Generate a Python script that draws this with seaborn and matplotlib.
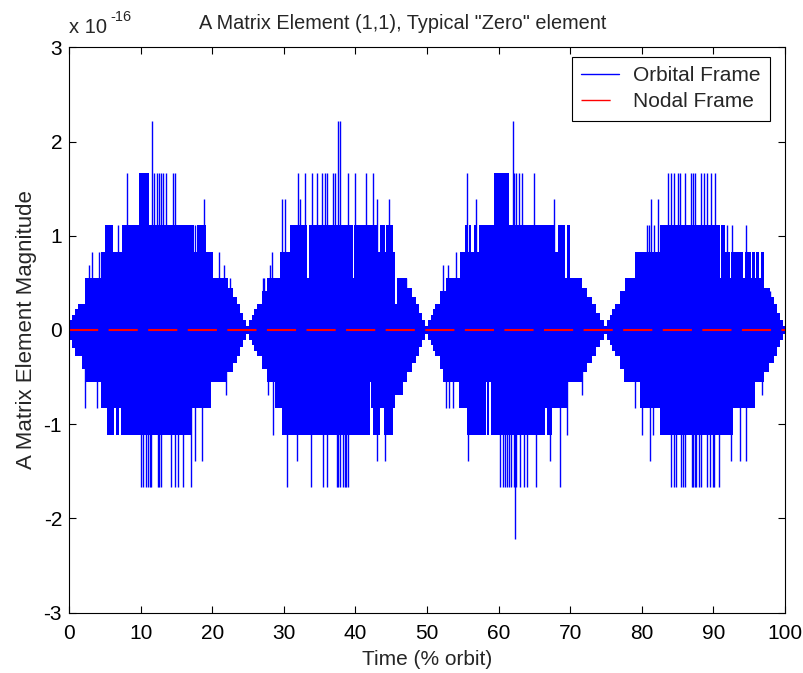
import numpy as np
import matplotlib
matplotlib.use("Agg")
import matplotlib.pyplot as plt
from matplotlib.lines import Line2D
import seaborn as sns

# one round-off step of the element, in units of 1e-16
STEP = 0.2776

# Orbital frame: upper edge of the noise band (step-post), time in % orbit, level in steps
orbital_up_t = [0.0, 0.15, 0.45, 0.8, 1.2, 2.2, 4.4, 5.0, 6.1, 7.35, 9.8, 11.2, 17.4, 17.9, 19.2, 20.1, 22.2, 22.9,
                23.5, 23.9, 24.3, 24.75,
                25.0, 25.2, 25.5, 25.8, 26.2, 26.9, 27.6, 29.4, 30.9, 33.2, 33.5, 39.6, 39.8, 43.2, 43.5, 44.1,
                44.3, 45.3, 45.6, 45.8, 47.2, 47.9, 48.5, 48.9, 49.3, 49.75,
                50.0, 50.2, 50.5, 50.8, 51.1, 51.8, 52.7, 54.6, 55.3, 55.7, 55.9, 56.2, 56.5, 56.9, 57.3, 59.4,
                61.4, 67.9, 68.3, 69.3, 69.5, 70.0, 71.6, 72.3, 73.0, 73.6, 74.2, 74.7,
                75.0, 75.2, 75.5, 75.8, 76.3, 77.0, 77.7, 79.05, 82.6, 90.9, 91.1, 91.6, 92.3, 92.4, 94.2, 94.35,
                95.3, 95.45, 95.8, 95.95, 96.3, 96.6, 97.0, 97.9, 98.5, 98.9, 99.3, 99.7, 100.0]
orbital_up_v = [0.15, 0.37, 0.57, 0.8, 1, 2, 3, 4, 3, 4, 6, 4, 3, 4, 3, 2, 1.6, 1.26,
                1, 0.65, 0.37, 0.15,
                0.15, 0.37, 0.57, 0.8, 1, 1.5, 2, 3, 4, 2, 4, 2, 4, 3, 4, 3,
                4, 3, 1, 2, 1.6, 1.26, 1, 0.65, 0.37, 0.15,
                0.15, 0.37, 0.57, 0.8, 1, 1.5, 2, 3, 4, 3, 4, 3, 4, 3, 4, 6,
                4, 3, 4, 2, 4, 2, 1.6, 1.26, 1, 0.65, 0.37, 0.15,
                0.15, 0.37, 0.57, 0.8, 1, 1.5, 2, 3, 4, 2, 4, 3, 2, 3, 2, 3,
                2, 3, 2, 3, 2, 3, 1.6, 1.26, 1, 0.65, 0.37, 0.15, 0]

# lower edge of the noise band
orbital_lo_t = [0.0, 0.15, 0.45, 0.85, 1.8, 2.2, 4.4, 5.3, 6.3, 6.5, 7.0, 7.2, 17.1, 19.9, 22.0, 22.9, 23.5, 23.9,
                24.3, 24.75,
                25.0, 25.2, 25.5, 25.8, 26.2, 26.9, 27.6, 28.8, 29.7, 42.0, 42.2, 42.5, 43.5, 44.0, 45.3, 45.6,
                46.7, 47.2, 47.9, 48.5, 48.9, 49.3, 49.75,
                50.0, 50.2, 50.5, 50.8, 51.1, 51.8, 52.3, 54.4, 55.6, 58.2, 58.4, 58.7, 58.9, 66.5, 66.7, 67.4,
                69.7, 71.8, 72.4, 73.0, 73.6, 74.2, 74.7,
                75.0, 75.2, 75.5, 75.8, 76.3, 77.0, 77.5, 79.7, 82.5, 92.8, 95.8, 97.0, 97.7, 98.4, 98.9, 99.3,
                99.7, 100.0]
orbital_lo_v = [-0.15, -0.37, -0.7, -1, -1.5, -2, -3, -4, -3, -4, -3, -4, -3, -2, -1.6, -1.26, -1, -0.65,
                -0.37, -0.15,
                -0.15, -0.37, -0.57, -0.8, -1, -1.5, -2, -3, -4, -2, -3, -4, -3, -4, -3, -2.5,
                -2, -1.6, -1.26, -1, -0.65, -0.37, -0.15,
                -0.15, -0.37, -0.57, -0.8, -1, -1.5, -2, -3, -4, -2, -4, -2, -4, -3, -4, -3,
                -2, -1.6, -1.26, -1, -0.65, -0.37, -0.15,
                -0.15, -0.37, -0.57, -0.8, -1, -1.5, -2, -3, -4, -3, -2, -1.6, -1.26, -1, -0.65, -0.37,
                -0.15, 0]

# single samples sticking out of the band
spike_up_t = [2.8, 3.2, 4.2, 6.9, 8.05, 11.55, 11.87, 12.24, 12.57, 12.85, 13.17, 13.55, 14.57, 14.8, 17.6, 18.8,
              21.0, 21.6, 22.5,
              27.1, 27.3, 28.1, 28.4, 29.7, 30.2, 32.0, 32.3, 32.9, 33.9, 34.7, 35.3, 35.7, 36.0, 36.9, 37.2,
              37.5, 37.9, 39.0, 40.0, 41.5, 42.4, 43.0, 44.7, 47.0,
              52.3, 52.97, 54.1, 55.6, 56.8, 62.0, 62.2, 62.5, 62.9, 63.2, 65.0, 67.8,
              80.7, 81.0, 81.3, 81.7, 82.3, 83.7, 84.1, 84.5, 85.0, 85.3, 86.0, 86.9, 87.1, 87.4, 88.3, 88.7,
              89.1, 89.7, 90.2, 91.9, 92.6, 94.6, 97.9]
spike_up_v = [2.5, 3, 3, 4, 6, 8, 6, 6, 6, 6, 6, 6, 6, 6, 4, 5,
              3, 2.5, 2,
              2, 2, 2.5, 3, 5, 5, 6, 5, 6, 6, 6, 6, 6, 6, 6, 6,
              8, 8, 6, 6, 6, 6, 5, 5, 2,
              2.5, 2.5, 3, 6, 5, 8, 6, 6, 6, 6, 6, 5,
              4, 4, 5, 4, 5, 6, 6, 6, 6, 6, 6, 6, 6, 6, 6, 6,
              6, 6, 6, 4, 4, 4, 1.5]
spike_lo_t = [2.2, 3.9, 10.06, 10.38, 10.75, 11.1, 11.3, 11.5, 12.4, 12.6, 12.9, 14.25, 14.8, 15.27, 15.97, 17.04,
              17.6, 18.6, 21.9,
              27.8, 28.5, 30.5, 31.8, 33.8, 35.5, 36.1, 37.4, 37.6, 37.8, 38.3, 38.5, 38.7, 38.9, 43.0, 44.2,
              52.6, 53.1, 53.7, 55.7, 60.2, 60.6, 60.9, 61.2, 61.5, 61.8, 62.1, 62.3, 62.5, 63.0, 63.5, 63.9,
              65.2, 67.2, 68.6, 69.5, 71.7,
              79.05, 80.0, 81.1, 81.6, 84.1, 84.5, 84.8, 85.5, 85.7, 86.1, 87.0, 87.2, 87.4, 87.6, 88.0, 88.3,
              89.1, 89.5, 89.9, 90.1, 90.8, 92.4, 93.7, 94.6, 96.8]
spike_lo_v = [-3, -3, -6, -6, -6, -6, -6, -6, -6, -6, -6, -6, -6, -6, -6, -6,
              -5, -5, -2.5,
              -2.5, -4, -6, -5, -6, -6, -6, -6, -6, -6, -6, -6, -6, -6, -5, -5,
              -3, -3, -3, -5, -6, -6, -6, -6, -6, -6, -6, -8, -6, -6, -6, -6,
              -6, -5, -6, -4, -2.5,
              -3, -4, -5, -4, -6, -6, -6, -6, -6, -6, -6, -6, -6, -6, -6, -6,
              -6, -6, -6, -6, -6, -5, -5, -5, -2.5]

# Nodal frame: the element is exactly zero
nodal_t = [0, 100]
nodal_v = [0, 0]

x_ticks = [0, 10, 20, 30, 40, 50, 60, 70, 80, 90, 100]
y_ticks = [-3, -2, -1, 0, 1, 2, 3]


def main():
    sns.set_style("ticks")
    plt.rcParams['font.family'] = ['Liberation Sans', 'DejaVu Sans']
    plt.rcParams['axes.unicode_minus'] = False
    plt.rcParams['lines.scale_dashes'] = False

    fig = plt.figure(figsize=(8.04, 6.73), dpi=100)
    ax = fig.add_axes([69 / 804, 1 - 612.6 / 673, 716 / 804, 565.2 / 673])

    blue = '#0000ff'
    ax.fill_between(orbital_up_t, 0, np.array(orbital_up_v) * STEP, step='post', color=blue, lw=0)
    ax.fill_between(orbital_lo_t, np.array(orbital_lo_v) * STEP, 0, step='post', color=blue, lw=0)
    ax.vlines(spike_up_t, 0, np.array(spike_up_v) * STEP, color=blue, lw=1.0)
    ax.vlines(spike_lo_t, np.array(spike_lo_v) * STEP, 0, color=blue, lw=1.0)

    sns.lineplot(x=nodal_t, y=nodal_v, color='red', lw=1.5, ax=ax, legend=False)
    ax.lines[-1].set_dashes((21, 7.5))

    ax.set_xlim(0, 100)
    ax.set_ylim(-3, 3)
    ax.set_xticks(x_ticks)
    ax.set_yticks(y_ticks)
    ax.set_yticklabels([str(v) for v in y_ticks])
    ax.tick_params(direction='in', top=True, right=True, length=5, width=0.8,
                   labelsize=15, colors='black')
    ax.tick_params(axis='x', pad=8)
    ax.tick_params(axis='y', pad=5)
    for s in ax.spines.values():
        s.set_color('black')
        s.set_linewidth(0.8)

    ax.set_xlabel('Time (% orbit)', fontsize=15, labelpad=5)
    ax.set_ylabel('A Matrix Element Magnitude', fontsize=16, labelpad=5)
    ax.set_title('A Matrix Element (1,1), Typical "Zero" element', fontsize=14.3, x=0.466, pad=13)

    # exponent label in the MATLAB style
    ax.text(0.0, 1.018, 'x 10', transform=ax.transAxes, fontsize=14.5, ha='left', va='bottom')
    ax.text(0.058, 1.042, '-16', transform=ax.transAxes, fontsize=10.5, ha='left', va='bottom')

    handles = [Line2D([], [], color=blue, lw=1.0),
               Line2D([], [], color='red', lw=1.0, dashes=(21, 7.5))]
    leg = ax.legend(handles, ['Orbital Frame', 'Nodal Frame'], loc='upper right', fontsize=15,
                    bbox_to_anchor=(770 / 804, 1 - 57 / 673), bbox_transform=fig.transFigure,
                    borderaxespad=0, frameon=True, fancybox=False, edgecolor='black', framealpha=1,
                    handlelength=1.8, handletextpad=0.7, borderpad=0.45, labelspacing=0.33)
    leg.get_frame().set_linewidth(0.8)

    fig.savefig('out.png', dpi=100)


if __name__ == "__main__":
    main()
